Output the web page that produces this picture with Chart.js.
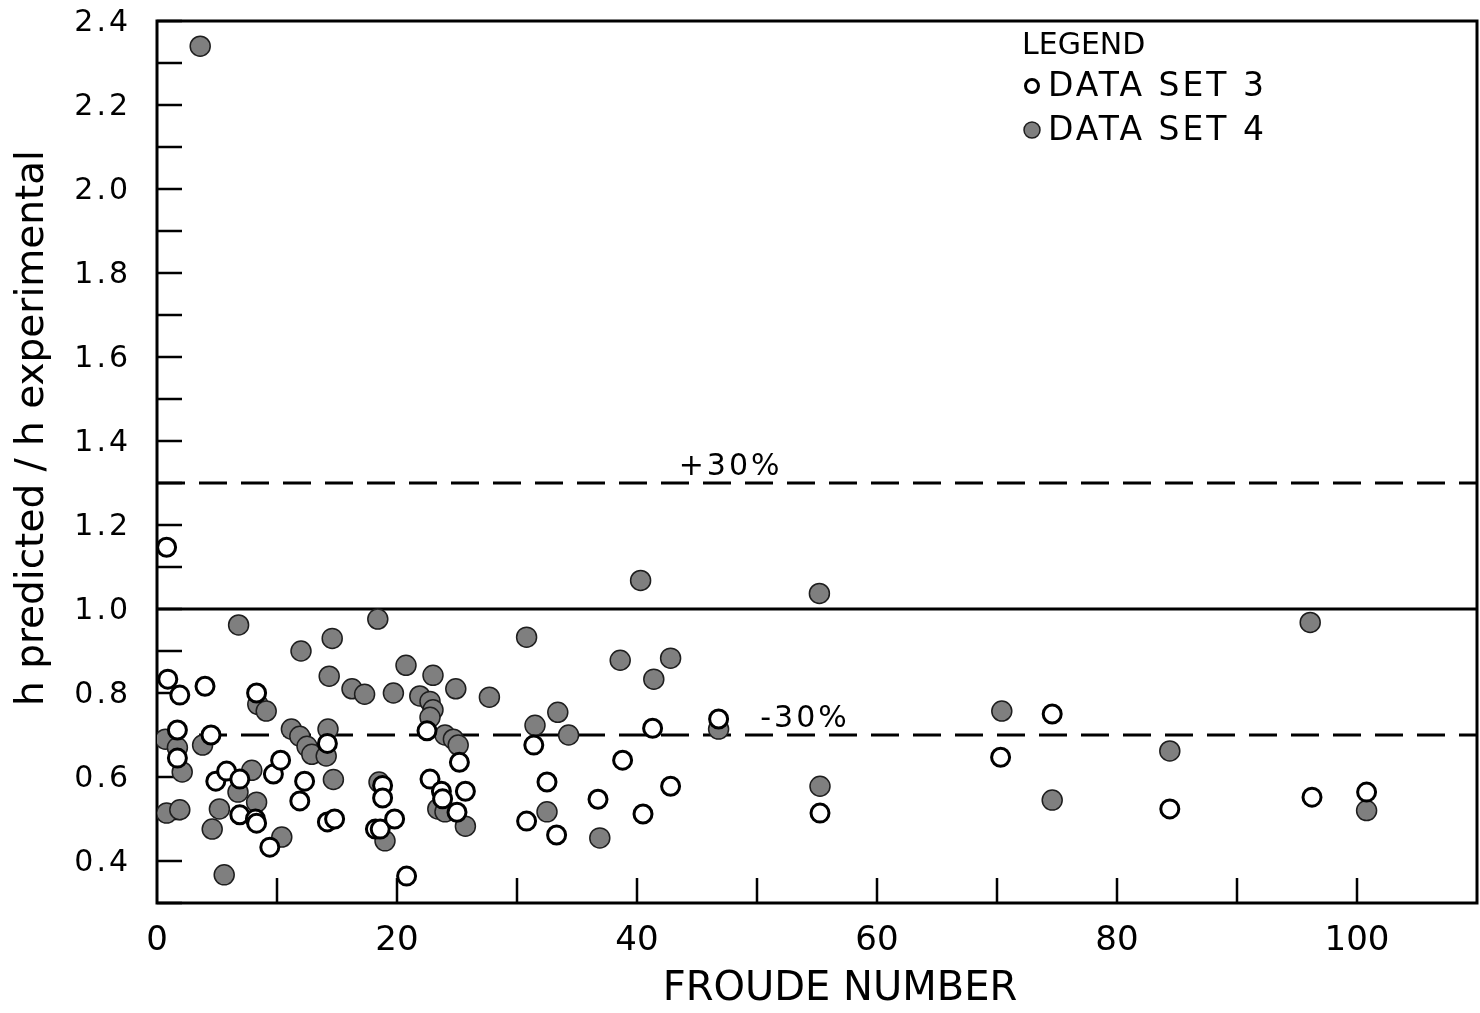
<!DOCTYPE html>
<html>
<head>
<meta charset="utf-8">
<script src="https://cdn.jsdelivr.net/npm/chart.js@4.4.1/dist/chart.umd.min.js"></script>
<style>
  html, body { margin: 0; padding: 0; background: #fff; }
  canvas { display: block; }
</style>
</head>
<body>
<canvas id="froudeChart" width="1480" height="1013"></canvas>
<script>
// --- Données ---
// Data set 3 (cercles vides)
const set3X = [0.8, 0.9, 1.9, 4.0, 1.7, 4.5, 1.7, 8.3, 4.9, 5.8, 6.9, 9.7, 10.3, 12.3, 11.9, 14.2,
  6.9, 8.2, 8.3, 9.4, 14.2, 14.8, 18.8, 18.8, 18.2, 18.6, 19.8, 20.8, 22.5, 22.75, 23.7, 23.8,
  25.0, 25.2, 25.7, 31.4, 41.3, 38.8, 32.5, 42.8, 36.75, 30.8, 33.3, 40.5, 46.8, 55.25, 74.6,
  70.3, 84.4, 96.25, 100.8];
const set3Y = [1.147, 0.833, 0.795, 0.816, 0.712, 0.70, 0.645, 0.80, 0.59, 0.614, 0.595, 0.607, 0.64, 0.59, 0.543, 0.68,
  0.51, 0.50, 0.49, 0.433, 0.493, 0.50, 0.58, 0.55, 0.476, 0.476, 0.50, 0.364, 0.71, 0.595, 0.566, 0.548,
  0.516, 0.635, 0.566, 0.676, 0.716, 0.64, 0.588, 0.578, 0.547, 0.495, 0.462, 0.512, 0.738, 0.514, 0.75,
  0.647, 0.524, 0.552, 0.564];

// Data set 4 (cercles pleins)
const set4X = [3.6, 6.8, 12.0, 14.6, 14.35, 18.4, 16.25, 17.3, 19.7, 20.75, 23.0, 24.9, 27.7, 21.9, 22.75, 23.0,
  22.75, 24.0, 24.7, 25.1, 8.4, 9.1, 11.2, 11.9, 12.5, 12.9, 14.25, 14.1, 0.7, 1.7, 2.1, 3.8,
  0.8, 1.9, 7.9, 6.75, 5.2, 4.6, 8.3, 10.4, 5.6, 14.7, 18.5, 19.0, 23.4, 24.0, 25.7, 30.8,
  40.3, 38.6, 42.8, 41.4, 33.4, 31.5, 34.3, 32.5, 36.9, 46.8, 55.2, 55.25, 70.4, 74.6, 84.4, 96.1, 100.8];
const set4Y = [2.34, 0.962, 0.90, 0.93, 0.84, 0.976, 0.81, 0.797, 0.80, 0.866, 0.842, 0.81, 0.79, 0.793, 0.78, 0.76,
  0.742, 0.70, 0.69, 0.676, 0.773, 0.757, 0.714, 0.697, 0.673, 0.654, 0.714, 0.65, 0.69, 0.67, 0.612, 0.676,
  0.514, 0.522, 0.616, 0.564, 0.524, 0.476, 0.54, 0.457, 0.367, 0.594, 0.588, 0.448, 0.524, 0.517, 0.483, 0.933,
  1.068, 0.878, 0.883, 0.833, 0.754, 0.723, 0.70, 0.517, 0.455, 0.714, 1.037, 0.578, 0.757, 0.545, 0.662, 0.968, 0.52];

// Lignes de référence : 1.0 (exact) et +/- 30 %
const refLevels = [1.0, 1.3, 0.7];
const refLabels = ['', '+30%', '-30%'];
const refLabelX = [0, 47.8, 54.0];

// Axes
const xRange = [0, 110];
const yRange = [0.3, 2.4];
const xTickLabels = ['0', '20', '40', '60', '80', '100'];
const yTickLabels = ['0.4', '0.6', '0.8', '1.0', '1.2', '1.4', '1.6', '1.8', '2.0', '2.2', '2.4'];
const xTitle = 'FROUDE NUMBER';
const yTitle = 'h predicted / h experimental';

const legendTitle = 'LEGEND';
const legendNames = ['DATA SET 3', 'DATA SET 4'];

const FONT = '"DejaVu Sans", sans-serif';
const toPoints = (xs, ys) => xs.map((x, i) => ({ x, y: ys[i] }));

const openStyle = { radius: 9, fill: '#ffffff', stroke: '#000000', width: 3, legendRadius: 6.5 };
const filledStyle = { radius: 10, fill: '#7f7f7f', stroke: '#1e1e1e', width: 1.5, legendRadius: 8 };

// --- Plugin : cadre, graduations intérieures, textes, légende ---
const decorPlugin = {
  id: 'decor',
  beforeDatasetsDraw(chart) {
    const { ctx, chartArea: a, scales: { x, y } } = chart;
    ctx.save();
    ctx.strokeStyle = '#000';
    ctx.lineWidth = 3;
    ctx.strokeRect(a.left, a.top, a.right - a.left, a.bottom - a.top);
    ctx.lineWidth = 2.5;
    ctx.beginPath();
    y.ticks.forEach(t => {
      const py = y.getPixelForValue(t.value);
      ctx.moveTo(a.left, py);
      ctx.lineTo(a.left + 25, py);
    });
    x.ticks.forEach(t => {
      if (t.value <= xRange[0] || t.value >= xRange[1]) return;
      const px = x.getPixelForValue(t.value);
      ctx.moveTo(px, a.bottom);
      ctx.lineTo(px, a.bottom - 25);
    });
    ctx.stroke();

    ctx.fillStyle = '#000';
    ctx.letterSpacing = '3px';

    // graduations de l'axe vertical
    ctx.font = '30px ' + FONT;
    ctx.textAlign = 'right';
    ctx.textBaseline = 'middle';
    yTickLabels.forEach(s => {
      ctx.fillText(s, a.left - 26, y.getPixelForValue(parseFloat(s)) + 2);
    });

    // étiquettes +30% / -30%
    ctx.textAlign = 'center';
    ctx.textBaseline = 'alphabetic';
    refLevels.forEach((lvl, i) => {
      if (!refLabels[i]) return;
      ctx.fillText(refLabels[i], x.getPixelForValue(refLabelX[i]), y.getPixelForValue(lvl) - 8);
    });

    // titres des axes
    ctx.letterSpacing = '0px';
    ctx.textBaseline = 'middle';
    ctx.font = '40px ' + FONT;
    ctx.fillText(xTitle, a.left + 683, a.bottom + 87);
    ctx.save();
    ctx.translate(33, a.top + 407);
    ctx.rotate(-Math.PI / 2);
    ctx.font = '39px ' + FONT;
    ctx.fillText(yTitle, 0, 0);
    ctx.restore();
    ctx.restore();
  },
  afterDraw(chart) {
    const { ctx, chartArea: a } = chart;
    ctx.save();
    ctx.fillStyle = '#000';
    ctx.textAlign = 'left';
    ctx.textBaseline = 'middle';
    ctx.font = '30px ' + FONT;
    ctx.fillText(legendTitle, a.left + 865, a.top + 25);
    ctx.letterSpacing = '3px';
    ctx.font = '33px ' + FONT;
    const styles = [openStyle, filledStyle];
    legendNames.forEach((name, i) => {
      const cy = a.top + 65 + i * 44;
      const s = styles[i];
      ctx.beginPath();
      ctx.arc(a.left + 875, cy, s.legendRadius, 0, Math.PI * 2);
      ctx.fillStyle = s.fill;
      ctx.fill();
      ctx.lineWidth = s.width;
      ctx.strokeStyle = s.stroke;
      ctx.stroke();
      ctx.fillStyle = '#000';
      ctx.fillText(name, a.left + 891, cy + 1);
    });
    ctx.restore();
  }
};

const ctx = document.getElementById('froudeChart').getContext('2d');

new Chart(ctx, {
  type: 'scatter',
  data: {
    datasets: [
      {
        label: legendNames[0],
        data: toPoints(set3X, set3Y),
        pointRadius: openStyle.radius,
        pointBackgroundColor: openStyle.fill,
        pointBorderColor: openStyle.stroke,
        pointBorderWidth: openStyle.width,
        order: 1
      },
      {
        label: legendNames[1],
        data: toPoints(set4X, set4Y),
        pointRadius: filledStyle.radius,
        pointBackgroundColor: filledStyle.fill,
        pointBorderColor: filledStyle.stroke,
        pointBorderWidth: filledStyle.width,
        order: 2
      },
      ...refLevels.map((lvl, i) => ({
        type: 'line',
        label: 'ref' + i,
        data: xRange.map(v => ({ x: v, y: lvl })),
        borderColor: '#000',
        borderWidth: 3,
        borderDash: i === 0 ? [] : [28, 14],
        pointRadius: 0,
        order: 5
      }))
    ]
  },
  options: {
    responsive: false,
    animation: false,
    layout: { autoPadding: false, padding: { top: 21, right: 3, left: 0, bottom: 0 } },
    plugins: {
      legend: { display: false },
      tooltip: { enabled: false }
    },
    scales: {
      x: {
        type: 'linear',
        min: xRange[0],
        max: xRange[1],
        grid: { display: false, drawTicks: false },
        border: { display: false },
        ticks: {
          stepSize: 10,
          autoSkip: false,
          maxRotation: 0,
          padding: 18,
          color: '#000',
          font: { family: FONT, size: 34 },
          callback: v => xTickLabels.includes(String(v)) ? String(v) : ''
        },
        afterFit: scale => {
          scale.height = 110;
          scale.paddingLeft = 0;
          scale.paddingRight = 0;
        }
      },
      y: {
        type: 'linear',
        min: yRange[0],
        max: yRange[1],
        grid: { display: false, drawTicks: false },
        border: { display: false },
        ticks: { stepSize: 0.1, display: false },
        afterFit: scale => {
          scale.width = 157;
          scale.paddingTop = 0;
          scale.paddingBottom = 0;
        }
      }
    }
  },
  plugins: [decorPlugin]
});
</script>
</body>
</html>
